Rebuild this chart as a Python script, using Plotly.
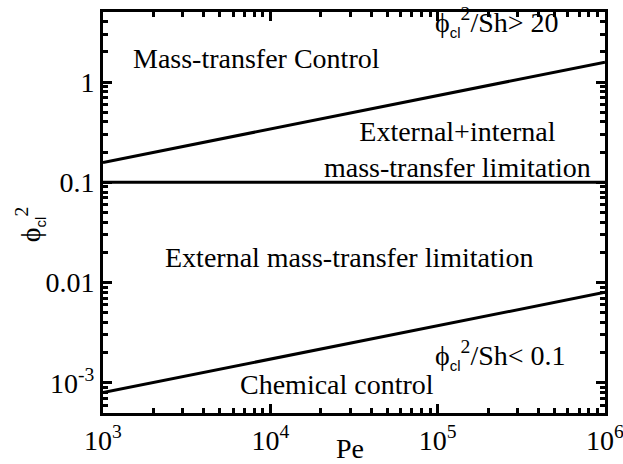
import plotly.graph_objects as go
import numpy as np

# Data
pe = [1e3, 1e4, 1e5, 1e6]
upper_boundary = [0.158, 0.34, 0.735, 1.58]        # phi^2/Sh = 20
lower_boundary = [8.0e-4, 1.72e-3, 3.7e-3, 8.0e-3]  # phi^2/Sh = 0.1
internal_limit = [0.1, 0.1, 0.1, 0.1]

x_tickvals = [1e3, 1e4, 1e5, 1e6]
x_ticktext = ["10<sup>3</sup>", "10<sup>4</sup>", "10<sup>5</sup>", "10<sup>6</sup>"]
y_tickvals = [1e-3, 1e-2, 1e-1, 1]
y_ticktext = ["10<sup>-3</sup>", "0.01", "0.1", "1"]

FONT = "Liberation Serif, Times New Roman, serif"
FS = 28
SUB = "<span style='font-family:Liberation Sans, Arial, sans-serif;font-size:15px'>cl</span>"
PHI = "ϕ"

fig = go.Figure()
for yv in (upper_boundary, internal_limit, lower_boundary):
    fig.add_trace(go.Scatter(x=pe, y=yv, mode="lines",
                             line=dict(color="black", width=3),
                             showlegend=False, hoverinfo="skip"))

def minor_vals(lo, hi):
    vals = []
    for e in range(lo, hi):
        for m in range(2, 10):
            vals.append(m * 10.0 ** e)
    return vals

axis_common = dict(
    type="log", showline=True, linecolor="black", linewidth=3,
    mirror="allticks", ticks="inside", ticklen=9, tickwidth=2.5, tickcolor="black",
    showgrid=False, zeroline=False, automargin=False,
    tickfont=dict(family=FONT, size=FS, color="black"),
    tickmode="array", ticklabeloverflow="allow",
)

fig.update_xaxes(**axis_common, range=[3, 6], tickvals=x_tickvals, ticktext=x_ticktext,
                 minor=dict(tickmode="array", tickvals=minor_vals(3, 6), ticks="inside",
                            ticklen=5, tickwidth=2.5, tickcolor="black", showgrid=False))
fig.update_yaxes(**axis_common, range=[np.log10(5e-4), np.log10(5)],
                 tickvals=y_tickvals, ticktext=y_ticktext,
                 minor=dict(tickmode="array", tickvals=minor_vals(-4, 1), ticks="inside",
                            ticklen=5, tickwidth=2.5, tickcolor="black", showgrid=False))

def ann(text, x, y, **kw):
    fig.add_annotation(text=text, x=x, y=y, xref="paper", yref="paper",
                       showarrow=False, font=dict(family=FONT, size=FS, color="black"),
                       xanchor="center", yanchor="middle", **kw)

ann("Mass-transfer Control", 0.305, 0.883)
ann(PHI + "<sub>" + SUB + "</sub><sup>2</sup>/Sh> 20", 0.785, 0.975)
ann("External+internal<br>mass-transfer limitation", 0.707, 0.658, align="center")
ann("External mass-transfer limitation", 0.492, 0.387)
ann(PHI + "<sub>" + SUB + "</sub><sup>2</sup>/Sh< 0.1", 0.791, 0.145)
ann("Chemical control", 0.466, 0.07)
ann("Pe", 0.492, -0.088)
ann(PHI + "<sub>" + SUB + "</sub><sup>2</sup>", -0.145, 0.469, textangle=-90)

fig.update_layout(
    width=623, height=464,
    margin=dict(l=103, r=18, t=12, b=51, autoexpand=False),
    paper_bgcolor="white", plot_bgcolor="white",
    font=dict(family=FONT, size=FS, color="black"),
)

fig.write_html("out.html")
